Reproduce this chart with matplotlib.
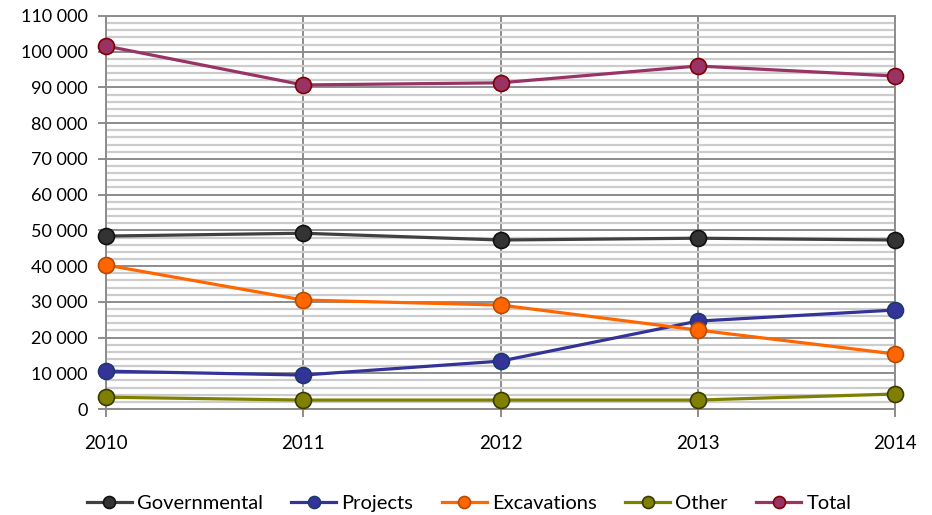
import matplotlib
matplotlib.use("Agg")
import matplotlib.pyplot as plt
from matplotlib.ticker import MultipleLocator, FuncFormatter

years = [2010, 2011, 2012, 2013, 2014]
governmental = [48400, 49200, 47300, 47800, 47300]
projects = [10600, 9500, 13400, 24600, 27700]
excavations = [40300, 30500, 29100, 22100, 15400]
other = [3300, 2500, 2500, 2500, 4200]
total = [101600, 90700, 91300, 96000, 93200]

series = [
    ("Governmental", governmental, "#404040", "#333333", "#111111"),
    ("Projects", projects, "#333399", "#333399", "#1c3a6e"),
    ("Excavations", excavations, "#ff6600", "#ff6600", "#b84a00"),
    ("Other", other, "#808000", "#808000", "#3a3a00"),
    ("Total", total, "#993366", "#993366", "#800000"),
]

plt.rcParams["font.family"] = ["Lato", "DejaVu Sans"]

fig = plt.figure(figsize=(9.32, 5.15), dpi=100)
ax = fig.add_axes([106 / 932, 1 - 409 / 515, (895 - 106) / 932, (409 - 16) / 515])

for name, vals, lc, fc, ec in series:
    ax.plot(years, vals, color=lc, lw=2.3, marker="o", ms=11.5,
            markerfacecolor=fc, markeredgecolor=ec, markeredgewidth=1.2,
            label=name, clip_on=False, zorder=3)

ax.set_xlim(2010, 2014)
ax.set_ylim(0, 110000)
ax.xaxis.set_major_locator(MultipleLocator(1))
ax.yaxis.set_major_locator(MultipleLocator(10000))
ax.yaxis.set_minor_locator(MultipleLocator(2000))
ax.yaxis.set_major_formatter(FuncFormatter(lambda v, p: f"{int(v):,}".replace(",", " ")))

ax.grid(which="minor", axis="y", color="#cccccc", lw=1.6, zorder=0)
ax.grid(which="major", axis="y", color="#8c8c8c", lw=1.4, zorder=1)
ax.grid(which="major", axis="x", color="#8c8c8c", lw=1.4, zorder=1)

for s in ax.spines.values():
    s.set_color("#8c8c8c")
    s.set_linewidth(1.4)

ax.tick_params(axis="y", which="major", length=6, width=1.4, color="#8c8c8c",
               labelsize=13, pad=7)
ax.tick_params(axis="y", which="minor", length=0)
ax.tick_params(axis="x", which="major", length=6, width=1.4, color="#8c8c8c",
               labelsize=13.5, pad=13)

ax.legend(loc="center", bbox_to_anchor=(469 / 932, 1 - 503 / 515),
          bbox_transform=fig.transFigure, ncol=5,
          frameon=False, fontsize=14.5, handlelength=2.25, columnspacing=1.4,
          handletextpad=0.25, markerscale=0.75)

fig.savefig("out.png", dpi=100)
